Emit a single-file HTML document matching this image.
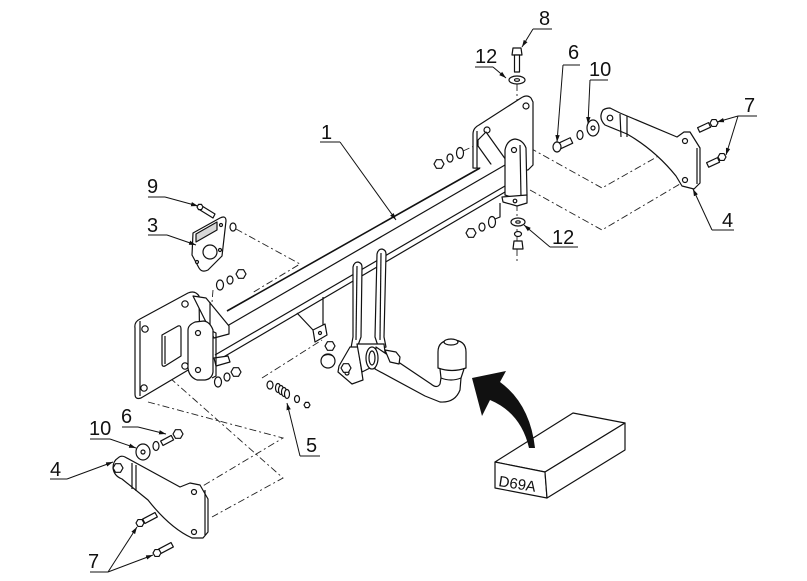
<!DOCTYPE html>
<html><head><meta charset="utf-8"><style>
html,body{margin:0;padding:0;background:#fff;}
svg{display:block;}
text{font-family:"Liberation Sans",Arial,sans-serif;fill:#111;}
</style></head><body>
<svg width="807" height="581" viewBox="0 0 807 581" xmlns="http://www.w3.org/2000/svg">
<defs>
<marker id="ah" markerWidth="8" markerHeight="6" refX="7" refY="3" orient="auto" markerUnits="userSpaceOnUse">
<path d="M0,0.8 L7,3 L0,5.2 Z" fill="#111"/>
</marker>
</defs>
<rect width="807" height="581" fill="#fff"/>

<!-- dashed construction lines -->
<g fill="none" stroke="#222" stroke-width="0.9" stroke-dasharray="7,3,2,3">
<path d="M530,148 L602,188 L685,141"/>
<path d="M530,190 L602,230 L685,181"/>
<path d="M517,84 L517,262"/>
<path d="M236,229 L300,264 L252,293"/>
<path d="M213,290 L210,327"/>
<path d="M148,402 L283,438 L196,490"/>
<path d="M170,378 L283,478 L212,517"/>
<path d="M262,378 L322,340"/>
<path d="M463,151 L474,146"/>
</g>

<g stroke="#111" stroke-width="1.2" fill="#fff" stroke-linejoin="round">
<!-- right mounting plate -->
<path d="M473,168 L473,134 Q473,128 479,125 L521,98 Q527,94 531,98 L533,102 L533,165 L528,170 Z"/>
<path d="M477,131 L477,168" fill="none"/>
<circle cx="487" cy="130" r="3"/>
<circle cx="526" cy="106" r="3"/>
<path d="M478,140 L486,132 L506,160 L506,172 L498,174 L478,146 Z"/>

<!-- main bar -->
<path d="M215,318 L480,168 L505,160 L505,192 L215,362 Z" stroke="none"/>
<path d="M227,311 L480,168" fill="none" stroke-width="1.6"/>
<path d="M215,333 L505,165" fill="none"/>
<path d="M215,355 L505,186" fill="none"/>
<path d="M215,362 L505,192" fill="none"/>

<!-- right end bracket -->
<path d="M505,195 L505,150 Q507,140 515,139 Q523,140 526,148 L527,195 L520,200 Z"/>
<path d="M520,145 L521,197" fill="none"/>
<circle cx="514" cy="150" r="2.5"/>
<path d="M502,197 L527,195 L527,203 L517,206 L503,202 Z"/>
<circle cx="515" cy="201" r="1.8"/>

<!-- right nut groups -->
<ellipse cx="460" cy="153" rx="3.5" ry="5.5"/>
<ellipse cx="450" cy="158" rx="3" ry="4"/>
<polygon points="5,0 2.5,4.33 -2.5,4.33 -5,0 -2.5,-4.33 2.5,-4.33" transform="translate(439,164)"/>
<path d="M495,219 L500,217 L500,203" fill="none"/>
<ellipse cx="492" cy="222" rx="3.5" ry="5.5"/>
<ellipse cx="482" cy="227" rx="3" ry="4"/>
<polygon points="5,0 2.5,4.33 -2.5,4.33 -5,0 -2.5,-4.33 2.5,-4.33" transform="translate(471,233)"/>

<!-- bolt 8 & washers 12 -->
<path d="M513,48 L521,48 L522,55 L512,55 Z"/>
<rect x="514.5" y="55" width="5" height="17"/>
<ellipse cx="517" cy="80" rx="8" ry="4"/>
<ellipse cx="517" cy="80" rx="2.5" ry="1.3"/>
<ellipse cx="518" cy="222" rx="7" ry="4"/>
<ellipse cx="518" cy="222" rx="2.2" ry="1.2"/>
<ellipse cx="518" cy="234" rx="3.5" ry="2.5"/>
<path d="M514,241 L522,241 L523,249 L513,249 Z"/>

<!-- right bracket 4 -->
<path d="M603,110 Q598,118 605,125 L627,134 Q655,150 676,176 L682,186 L694,189 L700,183 L700,148 L690,132 L684,132 L677,137 L620,113 L610,108 Q606,108 603,110 Z"/>
<path d="M620,114 L621,137 M627,116 L627,137 M697,148 L697,184" fill="none"/>
<circle cx="610" cy="118" r="2.8"/>
<circle cx="685" cy="141" r="2.5"/>
<circle cx="685" cy="180" r="2.5"/>

<!-- bolts 7 upper -->
<g transform="translate(705,127) rotate(-25)"><rect x="-7" y="-2.5" width="12" height="5"/></g>
<polygon points="4,0 2,3.46 -2,3.46 -4,0 -2,-3.46 2,-3.46" transform="translate(714,123)"/>
<g transform="translate(714,162) rotate(-25)"><rect x="-7" y="-2.5" width="12" height="5"/></g>
<polygon points="4,0 2,3.46 -2,3.46 -4,0 -2,-3.46 2,-3.46" transform="translate(722,157)"/>

<!-- bolt 6 / washer 10 upper -->
<g transform="translate(566,143) rotate(-25)"><rect x="-8" y="-3" width="14" height="6"/></g>
<ellipse cx="557" cy="147" rx="4" ry="5"/>
<ellipse cx="580" cy="135" rx="3" ry="4.5"/>
<ellipse cx="593" cy="128" rx="6" ry="8"/>
<circle cx="593" cy="128" r="2"/>

<!-- left mounting plate -->
<path d="M135,328 Q134,322 140,319 L188,293 Q195,290 199,296 L200,363 L141,398 Q135,400 135,394 Z"/>
<path d="M140,321 L140,396" fill="none"/>
<path d="M162,335 L178,326 Q181,325 181,329 L181,356 L165,366 Q162,367 162,364 Z"/>
<path d="M165,336 L165,364" fill="none"/>
<circle cx="145" cy="329" r="3.2"/>
<circle cx="185" cy="304" r="3.2"/>
<circle cx="144" cy="388" r="3.2"/>
<circle cx="185" cy="366" r="3.2"/>
<!-- gusset -->
<path d="M193,296 L206,298 L229,326 L229,334 L214,338 Z"/>
<path d="M210,302 L210,330" fill="none"/>
<path d="M214,358 L228,356 L230,362 L216,366 Z"/>
<!-- flange -->
<path d="M212,331 L216,333 L216,376 L212,378" fill="none"/>
<path d="M188,330 Q188,325 195,322 L204,321 Q210,322 213,330 L213,372 Q212,379 205,380 L197,380 Q189,377 188,368 Z"/>
<circle cx="198" cy="333" r="2.5"/>
<circle cx="198" cy="370" r="2.5"/>

<!-- left nut groups -->
<ellipse cx="220" cy="285" rx="3.5" ry="5"/>
<ellipse cx="230" cy="280" rx="3" ry="4"/>
<polygon points="5,0 2.5,4.33 -2.5,4.33 -5,0 -2.5,-4.33 2.5,-4.33" transform="translate(241,274)"/>
<ellipse cx="218" cy="382" rx="3.5" ry="5"/>
<ellipse cx="227" cy="377" rx="3" ry="4"/>
<polygon points="5,0 2.5,4.33 -2.5,4.33 -5,0 -2.5,-4.33 2.5,-4.33" transform="translate(236,372)"/>

<!-- plate 3 and bolt 9 -->
<path d="M193,233 L220,218 Q226,215 226,221 L222,256 L208,270 Q202,273 199,268 L192,255 Z"/>
<path d="M196,234 L217,222 L217,230 L196,242 Z" fill="#d8d8d8"/>
<circle cx="210" cy="252" r="7"/>
<circle cx="197" cy="262" r="1.5"/>
<circle cx="220" cy="250" r="1.5"/>
<circle cx="221" cy="225" r="1.5"/>
<path d="M202,206 L215,214 L213,218 L200,210 Z"/>
<polygon points="3,0 1.5,2.6 -1.5,2.6 -3,0 -1.5,-2.6 1.5,-2.6" transform="translate(200,207)"/>
<ellipse cx="233" cy="227" rx="3" ry="4"/>

<!-- bar tab -->
<path d="M297,313 L313,330 M323,297 L323,325" fill="none"/>
<path d="M313,330 L325,324 L327,335 L315,342 Z"/>
<circle cx="320" cy="333" r="1.5"/>

<!-- hitch arms -->
<path d="M353,267 Q354,262 358,262 Q362,263 362,267 L361,337 L357,348 L351,348 L353,337 Z"/>
<path d="M357,266 L356,340" fill="none"/>
<path d="M350,347 L358,347 L363,380 L352,384 L338,372 L339,366 Z"/>
<circle cx="347" cy="373" r="2"/>
<path d="M377,254 Q378,249 382,249 Q386,250 386,254 L384,337 L386,347 L379,349 L375,337 Z"/>
<path d="M381,253 L380,340" fill="none"/>
<path d="M357,344 L384,344 L386,360 L362,372 Z"/>

<!-- nuts near hitch -->
<polygon points="5,0 2.5,4.33 -2.5,4.33 -5,0 -2.5,-4.33 2.5,-4.33" transform="translate(330,346)"/>
<circle cx="328" cy="361" r="7"/>
<path d="M323,356 Q328,353 333,356" fill="none"/>
<polygon points="5,0 2.5,4.33 -2.5,4.33 -5,0 -2.5,-4.33 2.5,-4.33" transform="translate(346,368)"/>

<!-- tube & ball -->
<path d="M376,347 L431,384 Q437,389 440,384 L441,378 L461,378 L460,390 Q455,403 440,402 L425,396 L375,369 Z"/>
<ellipse cx="372" cy="358" rx="6" ry="11"/>
<ellipse cx="372" cy="358" rx="3" ry="7" fill="none"/>
<path d="M385,350 L396,352 L400,357 L399,364 L390,362 Z"/>
<path d="M440,369 L441,378 Q451,382 461,378 L464,369" />
<path d="M438,368 L438,352 Q438,340 452,340 Q466,340 466,352 L466,368 Q452,373 438,368 Z"/>
<ellipse cx="451" cy="342" rx="7" ry="3"/>

<!-- spring 5 -->
<ellipse cx="270" cy="385" rx="3" ry="4"/>
<ellipse cx="278" cy="388" rx="2.5" ry="4.5"/>
<ellipse cx="281" cy="390" rx="2.5" ry="4.5"/>
<ellipse cx="284" cy="392" rx="2.5" ry="4.5"/>
<ellipse cx="287" cy="394" rx="2.5" ry="4.5"/>
<ellipse cx="297" cy="399" rx="2.5" ry="3.5"/>
<polygon points="3,0 1.5,2.6 -1.5,2.6 -3,0 -1.5,-2.6 1.5,-2.6" transform="translate(307,405)"/>

<!-- left bracket 4 -->
<path d="M118,458 Q121,455 125,457 L180,487 L190,483 L200,485 L208,499 L208,532 L203,538 L192,538 Q170,528 148,500 L122,479 Q114,476 113,468 Q113,461 118,458 Z"/>
<path d="M132,463 L132,489 M136,465 L136,491 M205,490 L205,535" fill="none"/>
<circle cx="194" cy="492" r="2.5"/>
<circle cx="194" cy="532" r="2.5"/>
<polygon points="5,0 2.5,4.33 -2.5,4.33 -5,0 -2.5,-4.33 2.5,-4.33" transform="translate(118,468)"/>

<!-- bolts 7 lower -->
<g transform="translate(150,518) rotate(-28)"><rect x="-7" y="-2.5" width="14" height="5"/></g>
<polygon points="4,0 2,3.46 -2,3.46 -4,0 -2,-3.46 2,-3.46" transform="translate(140,523)"/>
<g transform="translate(166,548) rotate(-28)"><rect x="-7" y="-2.5" width="14" height="5"/></g>
<polygon points="4,0 2,3.46 -2,3.46 -4,0 -2,-3.46 2,-3.46" transform="translate(157,553)"/>

<!-- bolt 6 / washer 10 lower -->
<g transform="translate(168,440) rotate(-28)"><rect x="-7" y="-2.5" width="12" height="5"/></g>
<polygon points="5,0 2.5,4.33 -2.5,4.33 -5,0 -2.5,-4.33 2.5,-4.33" transform="translate(178,434)"/>
<ellipse cx="156" cy="446" rx="3" ry="4.5"/>
<ellipse cx="143" cy="452" rx="7" ry="8"/>
<circle cx="143" cy="452" r="2"/>

<!-- box D69A -->
<path d="M495,462 L573,413 L625,423 L545,472 Z"/>
<path d="M495,462 L545,472 L547,498 L495,488 Z"/>
<path d="M545,472 L625,423 L625,450 L547,498 Z"/>
</g>

<!-- big black arrow -->
<path d="M472,378 L506,371 L500,382 Q530,404 535,448 L529,448 Q521,413 490,400 L482,416 Z" fill="#111"/>

<text x="498" y="486" font-size="15" transform="rotate(9 498 486)">D69A</text>

<!-- leaders -->
<g stroke="#111" stroke-width="1" fill="none">
<path d="M533,29 L552,29"/>
<path d="M533,29 L522,47" marker-end="url(#ah)"/>
<path d="M475,67 L493,67"/>
<path d="M493,67 L506,78" marker-end="url(#ah)"/>
<path d="M563,65 L580,65"/>
<path d="M563,65 L557,142" marker-end="url(#ah)"/>
<path d="M590,80 L608,80"/>
<path d="M590,80 L588,124" marker-end="url(#ah)"/>
<path d="M738,116 L757,116"/>
<path d="M738,116 L717,122" marker-end="url(#ah)"/>
<path d="M738,116 L726,155" marker-end="url(#ah)"/>
<path d="M712,230 L734,230"/>
<path d="M712,230 L693,189" marker-end="url(#ah)"/>
<path d="M550,247 L578,247"/>
<path d="M550,247 L524,225" marker-end="url(#ah)"/>
<path d="M320,142 L340,142"/>
<path d="M340,142 L396,220" marker-end="url(#ah)"/>
<path d="M148,197 L165,197"/>
<path d="M165,197 L198,206" marker-end="url(#ah)"/>
<path d="M148,235 L167,235"/>
<path d="M167,235 L196,245" marker-end="url(#ah)"/>
<path d="M300,456 L320,456"/>
<path d="M300,456 L287,403" marker-end="url(#ah)"/>
<path d="M122,427 L138,427"/>
<path d="M138,427 L166,434" marker-end="url(#ah)"/>
<path d="M90,439 L110,439"/>
<path d="M110,439 L136,448" marker-end="url(#ah)"/>
<path d="M50,479 L67,479"/>
<path d="M67,479 L113,462" marker-end="url(#ah)"/>
<path d="M90,572 L108,572"/>
<path d="M108,572 L137,527" marker-end="url(#ah)"/>
<path d="M108,572 L153,555" marker-end="url(#ah)"/>
</g>

<!-- labels -->
<g font-size="20">
<text x="539" y="25">8</text>
<text x="475" y="63">12</text>
<text x="568" y="59">6</text>
<text x="589" y="76">10</text>
<text x="744" y="112">7</text>
<text x="722" y="227">4</text>
<text x="552" y="244">12</text>
<text x="321" y="139">1</text>
<text x="147" y="193">9</text>
<text x="147" y="232">3</text>
<text x="306" y="452">5</text>
<text x="121" y="423">6</text>
<text x="89" y="435">10</text>
<text x="50" y="476">4</text>
<text x="88" y="568">7</text>
</g>
</svg>
</body></html>
